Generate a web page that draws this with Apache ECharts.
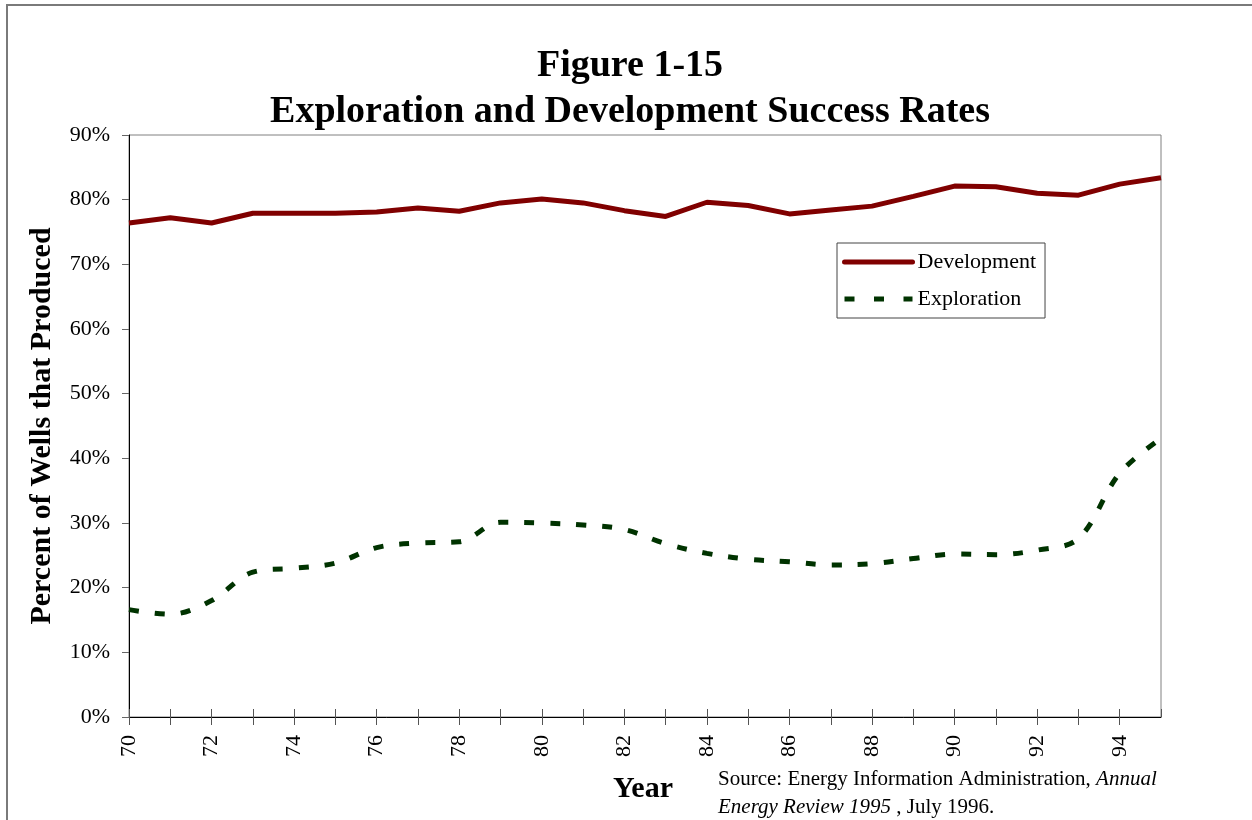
<!DOCTYPE html>
<html>
<head>
<meta charset="utf-8">
<script src="https://cdn.jsdelivr.net/npm/echarts@6/dist/echarts.min.js"></script>
<style>
  html, body { margin: 0; padding: 0; background: #fff; }
  #chart { width: 1252px; height: 820px; }
</style>
</head>
<body>
<div id="chart"></div>
<script>
// Well success rates by year (two-digit years), percent of wells that produced
const years = [70, 71, 72, 73, 74, 75, 76, 77, 78, 79, 80, 81, 82, 83, 84, 85, 86, 87, 88, 89, 90, 91, 92, 93, 94, 95];
const development = [76.4, 77.2, 76.4, 77.9, 77.9, 77.9, 78.1, 78.7, 78.2, 79.5, 80.1, 79.5, 78.3, 77.4, 79.6, 79.1, 77.8, 78.4, 79.0, 80.5, 82.1, 82.0, 81.0, 80.7, 82.4, 83.4];
const exploration = [16.6, 15.9, 18.0, 22.4, 23.0, 23.8, 26.2, 26.9, 27.1, 30.1, 30.0, 29.7, 29.0, 26.8, 25.3, 24.4, 24.0, 23.5, 23.7, 24.5, 25.2, 25.1, 25.8, 27.6, 37.7, 43.1];
const seriesNames = ['Development', 'Exploration'];
const titleLines = ['Figure 1-15', 'Exploration and Development Success Rates'];

const SERIF = '"Liberation Serif", "Times New Roman", serif';

const pairs = (vals) => years.map((y, i) => [y, vals[i]]);

const chart = echarts.init(document.getElementById('chart'));

chart.setOption({
  backgroundColor: '#ffffff',
  animation: false,
  grid: {
    left: 129, top: 135, right: 91, bottom: 103,
    show: true, borderColor: '#808080', borderWidth: 1
  },
  xAxis: [
    {
      type: 'value', min: 70, max: 95, interval: 1,
      position: 'bottom',
      axisLine: { show: true, lineStyle: { color: '#000', width: 1 } },
      axisTick: { show: true, inside: false, length: 8, lineStyle: { color: '#555' } },
      axisLabel: {
        show: true, rotate: 90, margin: 18,
        fontFamily: SERIF, fontSize: 22, color: '#000',
        showMaxLabel: false,
        formatter: (v) => (v % 2 === 0 ? String(v) : '')
      },
      splitLine: { show: false }
    },
    {
      type: 'value', min: 70, max: 95, interval: 1,
      position: 'bottom',
      axisLine: { show: false },
      axisTick: { show: true, inside: true, length: 8, lineStyle: { color: '#555' } },
      axisLabel: { show: false },
      splitLine: { show: false }
    }
  ],
  yAxis: {
    type: 'value', min: 0, max: 90, interval: 10,
    name: 'Percent of Wells that Produced',
    nameLocation: 'middle', nameRotate: 90, nameGap: 72,
    nameTextStyle: { fontFamily: SERIF, fontSize: 30, fontWeight: 'bold', color: '#000' },
    axisLine: { show: true, lineStyle: { color: '#000', width: 1 } },
    axisTick: { show: true, inside: false, length: 7, lineStyle: { color: '#666' } },
    axisLabel: { fontFamily: SERIF, fontSize: 22, color: '#000', margin: 19, formatter: '{value}%' },
    splitLine: { show: false }
  },
  legend: {
    orient: 'vertical',
    left: 837, top: 243,
    padding: [8, 9, 8, 5],
    itemWidth: 68, itemHeight: 22, itemGap: 15,
    backgroundColor: '#fff',
    borderColor: '#444', borderWidth: 1,
    itemStyle: { opacity: 0, borderWidth: 0 },
    lineStyle: { width: 5 },
    textStyle: { fontFamily: SERIF, fontSize: 22, color: '#000' },
    data: [
      { name: seriesNames[0], lineStyle: { width: 5, type: 'solid', cap: 'round' } },
      { name: seriesNames[1], lineStyle: { width: 5, type: [10, 19.5] } }
    ]
  },
  series: [
    {
      name: seriesNames[0], type: 'line',
      data: pairs(development),
      symbol: 'none', smooth: false,
      lineStyle: { color: '#800000', width: 5 },
      itemStyle: { color: '#800000' }
    },
    {
      name: seriesNames[1], type: 'line',
      data: pairs(exploration),
      symbol: 'none', smooth: 0.35,
      lineStyle: { color: '#003300', width: 5, type: [10, 16] },
      itemStyle: { color: '#003300' }
    }
  ],
  graphic: [
    {
      type: 'rect', silent: true, z: -1,
      shape: { x: 7, y: 5, width: 1300, height: 900 },
      style: { fill: null, stroke: '#7a7a7a', lineWidth: 2 }
    },
    {
      type: 'text', silent: true,
      style: {
        x: 630, y: 66, text: titleLines[0],
        font: 'bold 38px ' + SERIF, fill: '#000',
        textAlign: 'center', textVerticalAlign: 'middle'
      }
    },
    {
      type: 'text', silent: true,
      style: {
        x: 630, y: 112, text: titleLines[1],
        font: 'bold 38px ' + SERIF, fill: '#000',
        textAlign: 'center', textVerticalAlign: 'middle'
      }
    },
    {
      type: 'text', silent: true,
      style: {
        x: 613, y: 789, text: 'Year',
        font: 'bold 30px ' + SERIF, fill: '#000',
        textAlign: 'left', textVerticalAlign: 'middle'
      }
    },
    {
      type: 'text', silent: true,
      style: {
        x: 718, y: 793,
        text: '{r|Source: Energy Information Administration, }{i|Annual}\n{i|Energy Review 1995}{r| , July 1996.}',
        textAlign: 'left', textVerticalAlign: 'middle',
        rich: {
          r: { fontFamily: SERIF, fontSize: 21, fill: '#000', lineHeight: 28 },
          i: { fontFamily: SERIF, fontSize: 21, fontStyle: 'italic', fill: '#000', lineHeight: 28 }
        }
      }
    }
  ]
});
</script>
</body>
</html>
